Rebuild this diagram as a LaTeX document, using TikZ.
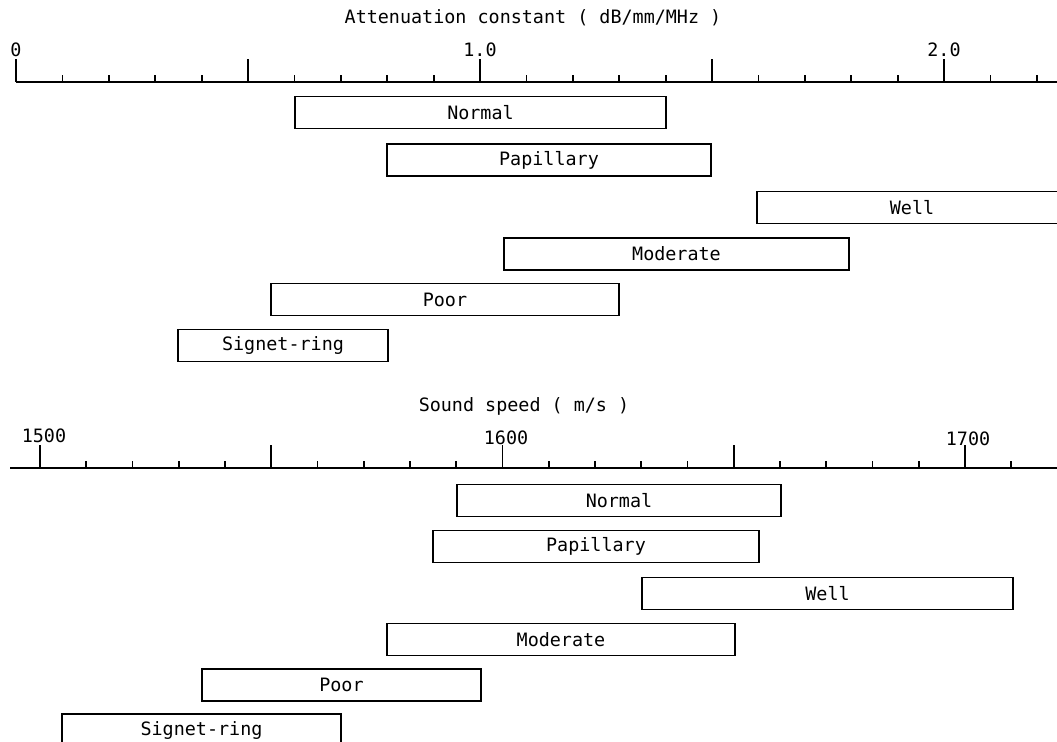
\documentclass[tikz,border=0pt]{standalone}
\usepackage{fontspec}
\setmonofont{DejaVu Sans Mono}

\tikzset{
  plotfont/.style={font=\ttfamily\fontsize{9.2}{11}\selectfont},
  grade/.style={draw, line width=0.9pt, minimum height=16pt, inner sep=0pt, plotfont},
  axisline/.style={line width=0.9pt},
  ticklabel/.style={anchor=base, inner sep=0pt, plotfont}
}

\begin{document}
\begin{tikzpicture}[x=0.5pt, y=-0.5pt]
  \useasboundingbox (0,0) rectangle (1057,742);
  \clip (0,0) rectangle (1057,742);

  % attenuation axis
  \node[ticklabel] (AttTitle) at (533,24) {Attenuation constant ( dB/mm/MHz )};
  \coordinate (AttStart) at (16,82);
  \coordinate (AttEnd) at (1057,82);
  \draw[axisline] (AttStart) -- (AttEnd);
  \foreach \i in {1,...,22}
    \draw[axisline] (16+46.4*\i,82) -- ++(0,-7);
  \foreach \i in {0,5,10,15,20}
    \draw[axisline] (16+46.4*\i,82) -- ++(0,-23);
  \node[ticklabel] (Att0) at (16,57) {0};
  \node[ticklabel] (Att1) at (480,57) {1.0};
  \node[ticklabel] (Att2) at (944,57) {2.0};

  \node[grade, minimum width=185.5pt] (aNormal) at (480.5,112.5) {Normal};
  \node[grade, minimum width=162pt] (aPapillary) at (549,160) {Papillary};
  \node[grade, minimum width=155pt] (aWell) at (912,207.5) {Well};
  \node[grade, minimum width=172.5pt] (aModerate) at (676.5,254) {Moderate};
  \node[grade, minimum width=174pt] (aPoor) at (445,299.5) {Poor};
  \node[grade, minimum width=105pt] (aSignet) at (283,345.5) {Signet-ring};

  % sound speed axis
  \node[ticklabel] (SpdTitle) at (524,412) {Sound speed ( m/s )};
  \coordinate (SpdStart) at (10,468);
  \coordinate (SpdEnd) at (1057,468);
  \draw[axisline] (SpdStart) -- (SpdEnd);
  \foreach \i in {1,...,21}
    \draw[axisline] (40+46.25*\i,468) -- ++(0,-7);
  \foreach \i in {0,5,10,15,20}
    \draw[axisline] (40+46.25*\i,468) -- ++(0,-23);
  \node[ticklabel] (Spd1500) at (44,443) {1500};
  \node[ticklabel] (Spd1600) at (506,445) {1600};
  \node[ticklabel] (Spd1700) at (968,446) {1700};

  \node[grade, minimum width=162pt] (sNormal) at (619,500.5) {Normal};
  \node[grade, minimum width=163pt] (sPapillary) at (596,546.5) {Papillary};
  \node[grade, minimum width=185.5pt] (sWell) at (827.5,593.5) {Well};
  \node[grade, minimum width=174pt] (sModerate) at (561,639.5) {Moderate};
  \node[grade, minimum width=139.5pt] (sPoor) at (341.5,685) {Poor};
  \node[grade, minimum width=139.5pt] (sSignet) at (201.5,730) {Signet-ring};

\end{tikzpicture}
\end{document}
